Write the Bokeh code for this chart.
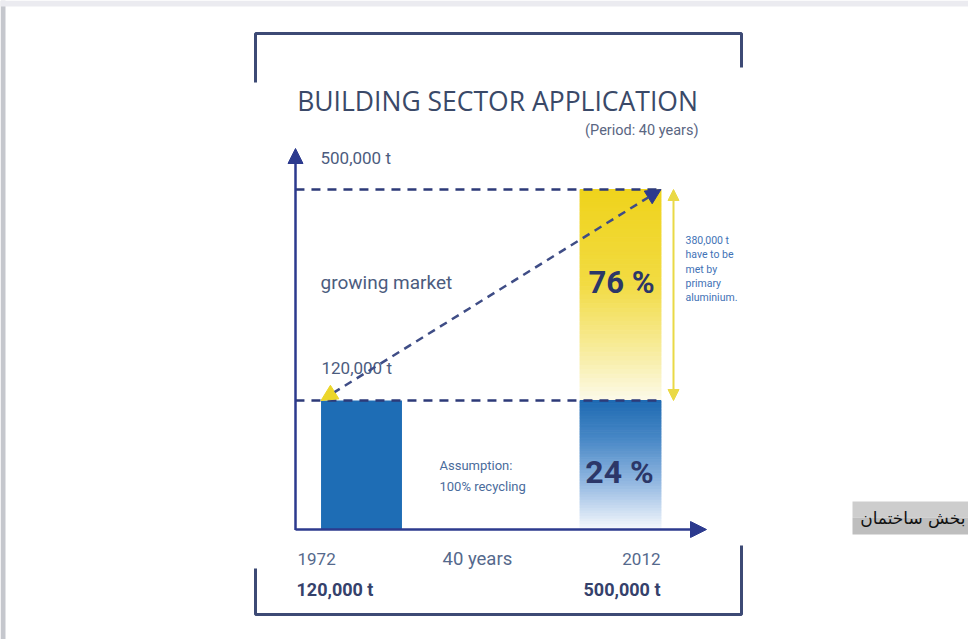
import numpy as np
from bokeh.plotting import figure
from bokeh.models import Range1d, LinearScale, Arrow, NormalHead
from bokeh.core.properties import value
from bokeh.embed import file_html
from bokeh.resources import INLINE

# ---------------- data ----------------
years = [1972, 2012]
total_t = [120000, 500000]          # building-sector demand (t)
recycled_t = [120000, 120000]       # met by recycling (100% of 1972 volume)
primary_t = [0, 380000]             # to be met by primary aluminium
period_years = years[1] - years[0]
share_recycled = round(100 * recycled_t[1] / total_t[1])   # 24
share_primary = round(100 * primary_t[1] / total_t[1])     # 76

title_text = "BUILDING SECTOR APPLICATION"
subtitle_text = f"(Period: {period_years} years)"
note_lines = [f"{primary_t[1]:,} t", "have to be", "met by", "primary", "aluminium."]
assumption_lines = ["Assumption:", "100% recycling"]
side_label = "بخش ساختمان"

# ---------------- styles ----------------
NAVY = "#2c3a8e"
DASH = "#2d3a78"
YELLOW = "#ecd62a"
BAR_BLUE = "#1e6db5"
TXT = "#4c5c7e"
TXT_DARK = "#35416b"
TXT_BLUE = "#3f72b6"
TXT_GREY = "#55698c"
FONT = "Roboto"

W, H = 968, 639
bar_w = 12.5            # years
baseline = 50000        # axis floor of the schematic (log) scale
axis_year = 1961.8

p = figure(width=W, height=H, output_backend="svg", toolbar_location=None,
           x_range=Range1d(1916.247, 2065.745), y_range=Range1d(23834, 1795300),
           y_axis_type="log", x_axis_location=None, y_axis_location=None,
           min_border=0, outline_line_color=None,
           background_fill_color="white", border_fill_color="white")
p.grid.visible = False
# pixel-space range for decorations and texts
p.extra_x_ranges = {"px": Range1d(0, W)}
p.extra_y_ranges = {"px": Range1d(H, 0)}
p.extra_x_scales = {"px": LinearScale()}
p.extra_y_scales = {"px": LinearScale()}
PX = dict(x_range_name="px", y_range_name="px")


def txt(x, y, s, size, color=TXT, bold=False, align="left", font=FONT, yname="px", y_offset=0):
    p.text(x=[x], y=[y], text=[s], text_font=value(font), text_font_size=f"{size}px",
           text_color=color, text_font_style="bold" if bold else "normal",
           text_align=align, text_baseline="middle", y_offset=y_offset,
           x_range_name="px", y_range_name=yname)


def grad(bottom, top, stops, n=48):
    edges = 10 ** np.linspace(np.log10(top), np.log10(bottom), n + 1)
    t = (np.arange(n) + 0.5) / n
    st = [s[0] for s in stops]
    cols = []
    for ti in t:
        rgb = [int(round(np.interp(ti, st, [s[1][k] for s in stops]))) for k in range(3)]
        cols.append("#%02x%02x%02x" % tuple(rgb))
    return edges[:-1], edges[1:], cols


# ---------------- page edge strips & bracket frame ----------------
p.quad(left=[0], right=[5], top=[0], bottom=[H], fill_color="#c5c7cd", line_color=None, **PX)
p.quad(left=[0], right=[W], top=[0], bottom=[6], fill_color="#ebebf0", line_color=None, **PX)
p.line(x=[255, 255, 741, 741], y=[82, 33, 33, 67], line_color="#3d4a75", line_width=3, **PX)
p.line(x=[255, 255, 741, 741], y=[568, 614, 614, 545], line_color="#3d4a75", line_width=3, **PX)

# ---------------- bars ----------------
p.vbar(x=[years[0]], width=bar_w, bottom=baseline, top=[recycled_t[0]],
       fill_color=BAR_BLUE, line_color=None)

yt, yb, yc = grad(recycled_t[1], total_t[1],
                  [(0, (239, 211, 28)), (0.45, (242, 219, 66)), (0.8, (248, 238, 168)), (1.0, (252, 250, 233))])
p.quad(left=years[1] - bar_w / 2, right=years[1] + bar_w / 2, top=yt, bottom=yb,
       fill_color=yc, line_color=yc, line_width=1)
bt, bb, bc = grad(baseline, recycled_t[1],
                  [(0, (30, 106, 178)), (0.3, (72, 136, 198)), (0.65, (150, 186, 226)), (1.0, (246, 249, 253))])
p.quad(left=years[1] - bar_w / 2, right=years[1] + bar_w / 2, top=bt, bottom=bb,
       fill_color=bc, line_color=bc, line_width=1)

# ---------------- dashed level lines ----------------
p.segment(x0=[axis_year] * 2, y0=total_t, x1=[years[1] + bar_w / 2] * 2, y1=total_t,
          line_color=DASH, line_width=2.5, line_dash="9 7")

# growing-market arrow
p.add_layout(Arrow(x_start=years[0] - bar_w / 2, y_start=total_t[0],
                   x_end=years[1] + bar_w / 2, y_end=total_t[1],
                   line_color="#3f4d86", line_width=2.5, line_dash="8 6",
                   start=NormalHead(size=16, fill_color=YELLOW, line_color=YELLOW),
                   end=NormalHead(size=15, fill_color=NAVY, line_color=NAVY)))

# double-headed yellow arrow for the primary gap
p.add_layout(Arrow(x_start=673, y_start=recycled_t[1], x_end=673, y_end=total_t[1],
                   x_range_name="px", line_color="#ead946", line_width=2,
                   start=NormalHead(size=11, fill_color="#ead946", line_color="#ead946"),
                   end=NormalHead(size=11, fill_color="#ead946", line_color="#ead946")))

# ---------------- axes arrows ----------------
p.add_layout(Arrow(x_start=295, y_start=529.5, x_end=295, y_end=148, line_color=NAVY, line_width=2.5,
                   end=NormalHead(size=15, fill_color=NAVY, line_color=NAVY), **PX))
p.add_layout(Arrow(x_start=295, y_start=529, x_end=706, y_end=529, line_color=NAVY, line_width=2.5,
                   end=NormalHead(size=16, fill_color=NAVY, line_color=NAVY), **PX))

# ---------------- texts ----------------
txt(497, 100, title_text, 26.5, color="#3a4968", align="center", font="Open Sans")
txt(698, 130, subtitle_text, 14.5, color="#5a6682", align="right")
txt(320, total_t[1], f"{total_t[1]:,} t", 17, yname="default", y_offset=-32)
txt(320, 282, "growing market", 19)
txt(321, total_t[0], f"{total_t[0]:,} t", 17, yname="default", y_offset=-33)
txt(621, 282, f"{share_primary} %", 31, color="#2c3768", bold=True, align="center")
txt(619, 471, f"{share_recycled} %", 32, color="#2c3768", bold=True, align="center")
for i, s in enumerate(note_lines):
    txt(685, 240 + 14.3 * i, s, 10.5, color=TXT_BLUE)
for i, s in enumerate(assumption_lines):
    txt(439, 465 + 21 * i, s, 13, color="#4a6c9c")
txt(297, 558, str(years[0]), 17, color=TXT_GREY)
txt(442, 558, f"{period_years} years", 18.5, color=TXT_GREY)
txt(660, 558, str(years[1]), 17, color=TXT_GREY, align="right")
txt(296, 589, f"{total_t[0]:,} t", 18, color=TXT_DARK, bold=True)
txt(660, 589, f"{total_t[1]:,} t", 18, color=TXT_DARK, bold=True, align="right")

# side label box
p.quad(left=[852], right=[W], top=[501], bottom=[517], fill_color="#cdcdcd", line_color=None, **PX)
p.quad(left=[852], right=[W], top=[517], bottom=[534], fill_color="#bebebe", line_color=None, **PX)
txt(965, 517, side_label, 17, color="#111111", align="right", font="DejaVu Sans")

open("out.html", "w").write(file_html(p, INLINE))
